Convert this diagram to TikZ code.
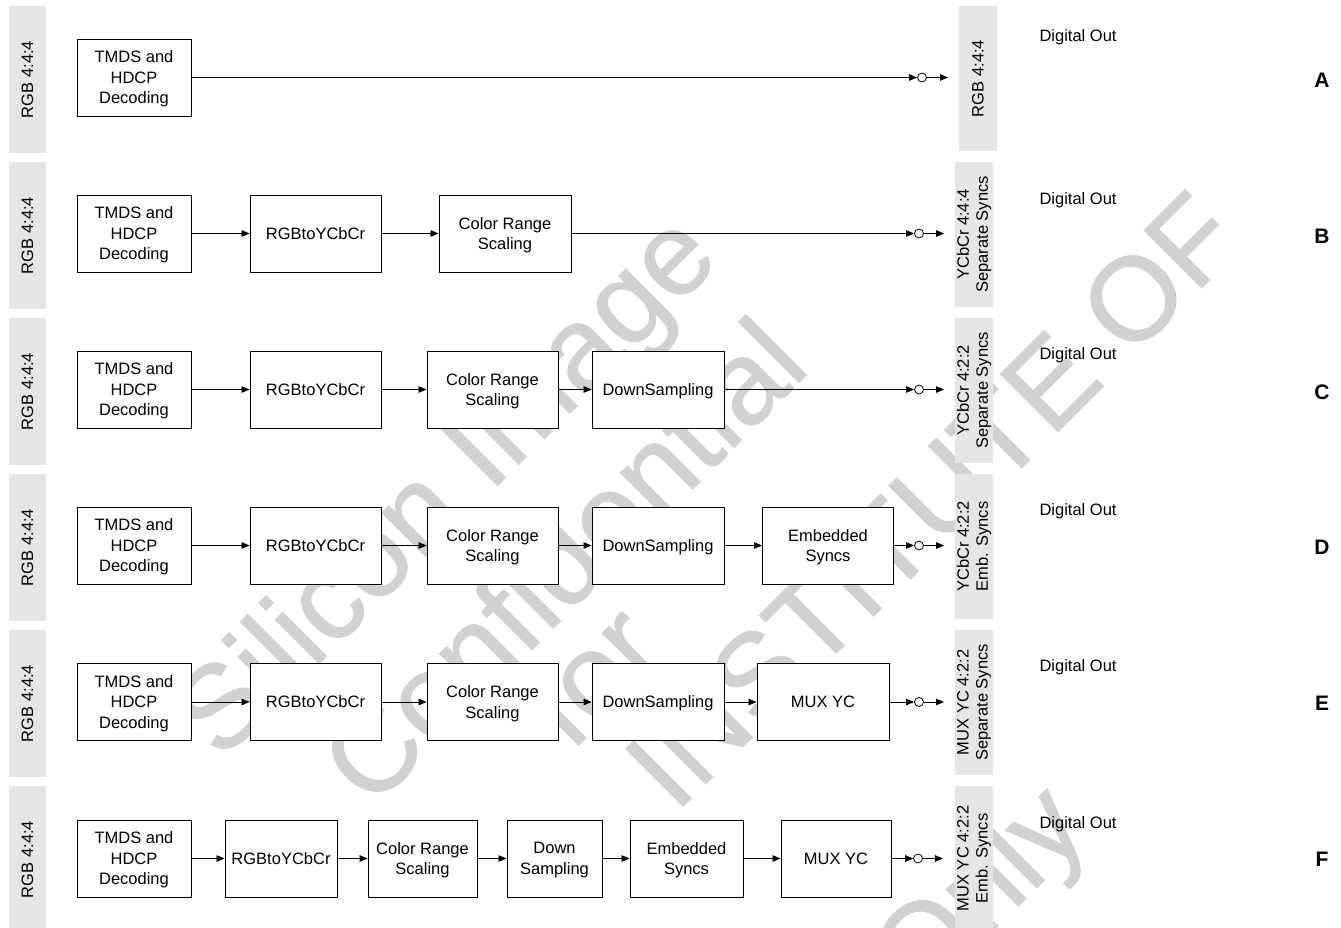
\documentclass[tikz,border=0pt]{standalone}
\usepackage{fontspec}
\setmainfont{Liberation Sans}
\newfontfamily\wmfont[FakeBold=1]{Liberation Sans}
\usetikzlibrary{arrows.meta}
\begin{document}
\begin{tikzpicture}[x=1pt,y=-1pt,
  txt/.style={font=\fontsize{16.5}{20.5}\selectfont},
  blk/.style={draw, line width=0.9pt, fill=white, align=center, inner sep=0pt, minimum height=77pt, text depth=0pt, txt},
  lbar/.style={fill=black!10, draw=none, rotate=90, inner sep=0pt, align=center, font=\fontsize{16.5}{19}\selectfont},
  arr/.style={line width=0.8pt, -{Triangle[length=8pt,width=6.5pt]}},
  circ/.style={draw, circle, line width=0.8pt, minimum size=9pt, inner sep=0pt, fill=white},
  dout/.style={anchor=west, txt},
  lett/.style={font=\fontsize{21}{21}\selectfont\bfseries},
  wm/.style={text=black!18, rotate=45, inner sep=0pt, font=\wmfont\fontsize{118}{118}\selectfont}]
\useasboundingbox (0,0) rectangle (1341,928);

% ---------- watermark ----------
\node[wm] (w1) at (450,490) {Silicon Image};
\node[wm] (w2) at (562,560) {Confidential};
\node[wm] (w3) at (590,674) {for};
\node[wm] (w4) at (932,500) {INSTITUTE OF};
\node[wm] (w5) at (984,897) {Only};

% ---------- side bars ----------
\node[lbar, minimum width=147pt, minimum height=37pt] (lA) at (27.5,79.5) {RGB 4:4:4};
\node[lbar, minimum width=147pt, minimum height=37pt] (lB) at (27.5,235.5) {RGB 4:4:4};
\node[lbar, minimum width=147pt, minimum height=37pt] (lC) at (27.5,391.5) {RGB 4:4:4};
\node[lbar, minimum width=147pt, minimum height=37pt] (lD) at (27.5,547.5) {RGB 4:4:4};
\node[lbar, minimum width=147pt, minimum height=37pt] (lE) at (27.5,703.5) {RGB 4:4:4};
\node[lbar, minimum width=147pt, minimum height=37pt] (lF) at (27.5,859.5) {RGB 4:4:4};

\node[lbar, minimum width=145pt, minimum height=38pt] (rA) at (978,78.5) {RGB 4:4:4};
\node[lbar, minimum width=145pt, minimum height=38pt] (rB) at (974,234.5) {YCbCr 4:4:4\\Separate Syncs};
\node[lbar, minimum width=145pt, minimum height=38pt] (rC) at (974,390.5) {YCbCr 4:2:2\\Separate Syncs};
\node[lbar, minimum width=145pt, minimum height=38pt] (rD) at (974,546.5) {YCbCr 4:2:2\\Emb. Syncs};
\node[lbar, minimum width=145pt, minimum height=38pt] (rE) at (974,702.5) {MUX YC 4:2:2\\Separate Syncs};
\node[lbar, minimum width=145pt, minimum height=38pt] (rF) at (974,858.5) {MUX YC 4:2:2\\Emb. Syncs};

% ---------- row A ----------
\node[blk, minimum width=114pt] (a1) at (134,77.5) {TMDS and\\HDCP\\Decoding};
\node[circ] (oA) at (922,77.5) {};
\coordinate (eA) at (948,77.5);
\draw[arr] (a1) -- (oA);
\draw[arr] (oA) -- (eA);

% ---------- row B ----------
\node[blk, minimum width=114pt] (b1) at (134,233.5) {TMDS and\\HDCP\\Decoding};
\node[blk, minimum width=131pt] (b2) at (315.5,233.5) {RGBtoYCbCr};
\node[blk, minimum width=132pt] (b3) at (505,233.5) {Color Range\\Scaling};
\node[circ] (oB) at (919,233.5) {};
\coordinate (eB) at (944,233.5);
\draw[arr] (b1) -- (b2);
\draw[arr] (b2) -- (b3);
\draw[arr] (b3) -- (oB);
\draw[arr] (oB) -- (eB);

% ---------- row C ----------
\node[blk, minimum width=114pt] (c1) at (134,389.5) {TMDS and\\HDCP\\Decoding};
\node[blk, minimum width=131pt] (c2) at (315.5,389.5) {RGBtoYCbCr};
\node[blk, minimum width=131pt] (c3) at (492.5,389.5) {Color Range\\Scaling};
\node[blk, minimum width=132pt] (c4) at (658,389.5) {DownSampling};
\node[circ] (oC) at (919,389.5) {};
\coordinate (eC) at (944,389.5);
\draw[arr] (c1) -- (c2);
\draw[arr] (c2) -- (c3);
\draw[arr] (c3) -- (c4);
\draw[arr] (c4) -- (oC);
\draw[arr] (oC) -- (eC);

% ---------- row D ----------
\node[blk, minimum width=114pt] (d1) at (134,545.5) {TMDS and\\HDCP\\Decoding};
\node[blk, minimum width=131pt] (d2) at (315.5,545.5) {RGBtoYCbCr};
\node[blk, minimum width=131pt] (d3) at (492.5,545.5) {Color Range\\Scaling};
\node[blk, minimum width=132pt] (d4) at (658,545.5) {DownSampling};
\node[blk, minimum width=131pt] (d5) at (828,545.5) {Embedded\\Syncs};
\node[circ] (oD) at (919,545.5) {};
\coordinate (eD) at (944,545.5);
\draw[arr] (d1) -- (d2);
\draw[arr] (d2) -- (d3);
\draw[arr] (d3) -- (d4);
\draw[arr] (d4) -- (d5);
\draw[arr] (d5) -- (oD);
\draw[arr] (oD) -- (eD);

% ---------- row E ----------
\node[blk, minimum width=114pt] (e1) at (134,702) {TMDS and\\HDCP\\Decoding};
\node[blk, minimum width=131pt] (e2) at (315.5,702) {RGBtoYCbCr};
\node[blk, minimum width=131pt] (e3) at (492.5,702) {Color Range\\Scaling};
\node[blk, minimum width=132pt] (e4) at (658,702) {DownSampling};
\node[blk, minimum width=132pt] (e5) at (823,702) {MUX YC};
\node[circ] (oE) at (919,702) {};
\coordinate (eE) at (944,702);
\draw[arr] (e1) -- (e2);
\draw[arr] (e2) -- (e3);
\draw[arr] (e3) -- (e4);
\draw[arr] (e4) -- (e5);
\draw[arr] (e5) -- (oE);
\draw[arr] (oE) -- (eE);

% ---------- row F ----------
\node[blk, minimum width=114pt] (f1) at (134,858.5) {TMDS and\\HDCP\\Decoding};
\node[blk, minimum width=112pt] (f2) at (281,858.5) {RGBtoYCbCr};
\node[blk, minimum width=109pt] (f3) at (422.5,858.5) {Color Range\\Scaling};
\node[blk, minimum width=95pt] (f4) at (554.5,858.5) {Down\\Sampling};
\node[blk, minimum width=113pt] (f5) at (686.5,858.5) {Embedded\\Syncs};
\node[blk, minimum width=110pt] (f6) at (836,858.5) {MUX YC};
\node[circ] (oF) at (918,858.5) {};
\coordinate (eF) at (943,858.5);
\draw[arr] (f1) -- (f2);
\draw[arr] (f2) -- (f3);
\draw[arr] (f3) -- (f4);
\draw[arr] (f4) -- (f5);
\draw[arr] (f5) -- (f6);
\draw[arr] (f6) -- (oF);
\draw[arr] (oF) -- (eF);

% ---------- labels ----------
\node[dout] (dA) at (1036,37) {Digital Out};
\node[dout] (dB) at (1036,200) {Digital Out};
\node[dout] (dC) at (1036,355) {Digital Out};
\node[dout] (dD) at (1036,511) {Digital Out};
\node[dout] (dE) at (1036,667) {Digital Out};
\node[dout] (dF) at (1036,824) {Digital Out};

\node[lett] (LA) at (1322,80) {A};
\node[lett] (LB) at (1322,236) {B};
\node[lett] (LC) at (1322,392) {C};
\node[lett] (LD) at (1322,547) {D};
\node[lett] (LE) at (1322,703) {E};
\node[lett] (LF) at (1322,859) {F};
\end{tikzpicture}
\end{document}
